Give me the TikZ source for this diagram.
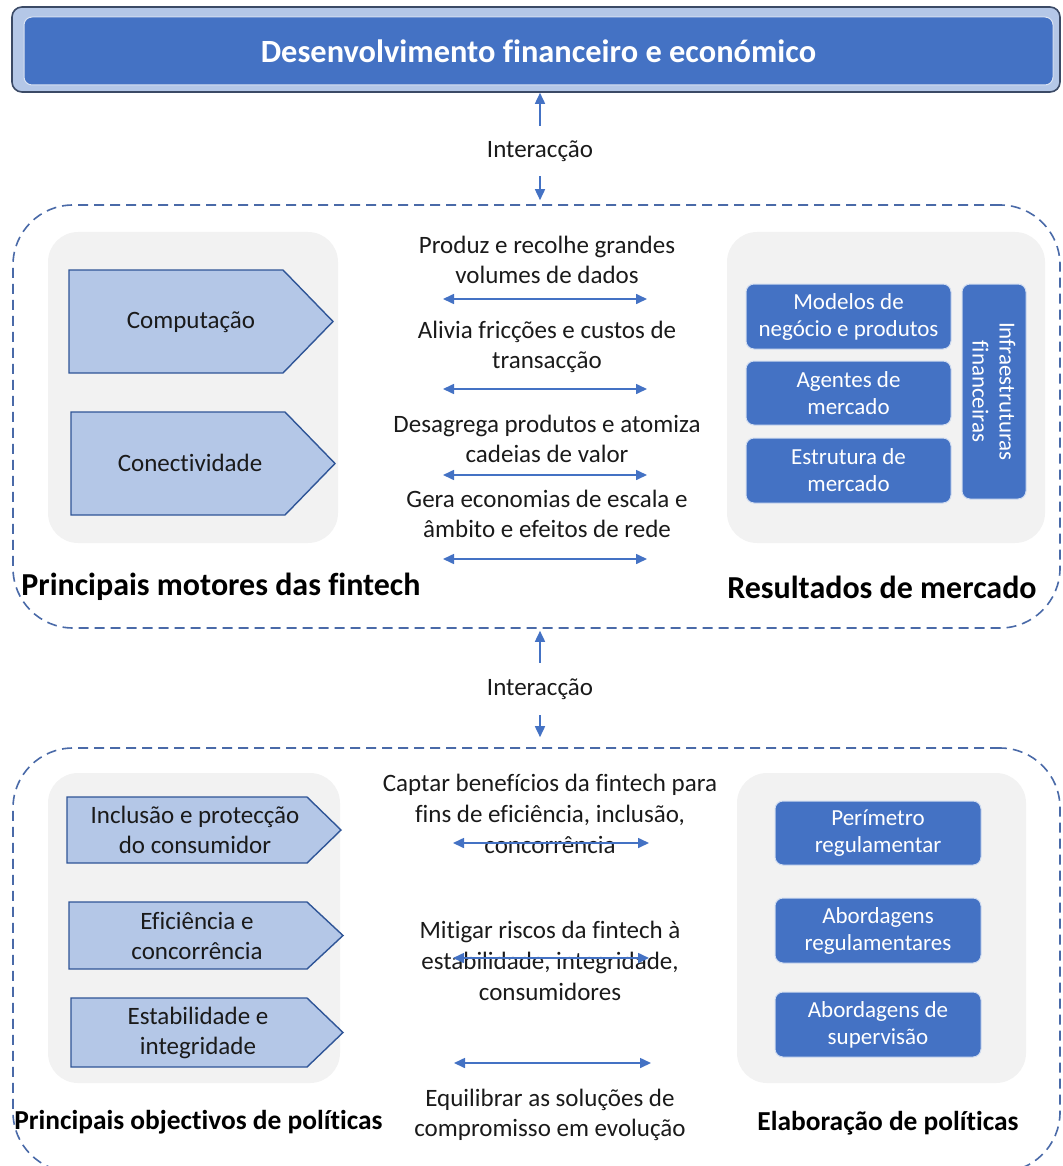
\documentclass[tikz,border=0pt]{standalone}
\usepackage{fontspec}
\setmainfont{Carlito}[Ligatures=NoCommon]
\usetikzlibrary{arrows.meta}

\definecolor{bluemain}{HTML}{4472C4}
\definecolor{bluelight}{HTML}{B4C7E7}
\definecolor{bluedark}{HTML}{2F5597}
\definecolor{bannerline}{HTML}{3B4A66}
\definecolor{greypanel}{HTML}{F2F2F2}
\definecolor{dashblue}{HTML}{4A6AA8}
\definecolor{inkdark}{HTML}{1A1A1A}

\tikzset{
  zone/.style={draw=dashblue, line width=0.8pt, dash pattern=on 5pt off 3pt, rounded corners=30pt, inner sep=0pt},
  panel/.style={fill=greypanel, rounded corners=15pt, inner sep=0pt},
  chevron/.style={fill=bluelight, draw=bluedark, line width=0.7pt},
  chevtext/.style={font=\fontsize{12.5}{15}\selectfont, text=inkdark, align=center},
  midtext/.style={font=\fontsize{12.5}{15}\selectfont, text=inkdark, align=center},
  midtextwide/.style={font=\fontsize{12.5}{15.5}\selectfont, text=inkdark, align=center},
  bluebox/.style={fill=bluemain, draw=white!75!bluemain, line width=0.5pt, rounded corners=4pt, text=white, font=\fontsize{11.5}{13.5}\selectfont, align=center, inner sep=0pt},
  zonelabel/.style={font=\fontsize{16}{18}\selectfont\bfseries, text=black, inner sep=0pt},
  zonelabelsmall/.style={font=\fontsize{13.7}{16}\selectfont\bfseries, text=black, inner sep=0pt},
  linkarrow/.style={draw=bluemain, line width=0.8pt, {Triangle[length=5.5pt,width=5pt]}-{Triangle[length=5.5pt,width=5pt]}},
  onearrow/.style={draw=bluemain, line width=0.8pt, -{Triangle[length=5.5pt,width=5pt]}},
}

\begin{document}
\begin{tikzpicture}[x=0.5pt, y=-0.5pt]
  \useasboundingbox (0,0) rectangle (1063,1166);

  % banner at the top
  \node[draw=bannerline, line width=0.8pt, fill=bluelight, rounded corners=5pt, minimum width=524pt, minimum height=42.5pt, inner sep=0pt] (frame) at (536,49.5) {};
  \node[fill=bluemain, draw=white!80!bluemain, line width=0.5pt, rounded corners=4pt, minimum width=514.5pt, minimum height=34pt, inner sep=0pt, text=white, font=\fontsize{16.2}{18}\selectfont\bfseries] (topic) at (538.5,51) {Desenvolvimento financeiro e económico};

  % dashed zones
  \node[zone, minimum width=523.5pt, minimum height=211.5pt] (zone1) at (536.5,416.5) {};
  \node[zone, minimum width=523.5pt, minimum height=212pt] (zone2) at (536.5,960) {};

  % interaction links
  \node[midtext, minimum height=25pt, inner sep=0pt] (int1) at (540,151) {Interacção};
  \draw[onearrow] (int1.north) -- (int1.north |- frame.south);
  \draw[onearrow, shorten >=2pt] (int1.south) -- (int1.south |- zone1.north);
  \node[midtext, minimum height=26pt, inner sep=0pt] (int2) at (540,689) {Interacção};
  \draw[onearrow, shorten >=1pt] (int2.north) -- (int2.north |- zone1.south);
  \draw[onearrow, shorten >=5pt] (int2.south) -- (int2.south |- zone2.north);

  % grey panels
  \node[panel, minimum width=145pt, minimum height=155.5pt] (drivers) at (193,387.5) {};
  \node[panel, minimum width=159pt, minimum height=155.5pt] (outcomes) at (886,387.5) {};
  \node[panel, minimum width=146pt, minimum height=155pt] (goals) at (194,928) {};
  \node[panel, minimum width=144.5pt, minimum height=155pt] (policy) at (881.5,928) {};

  % drivers
  \draw[chevron] (69,270) -- (283,270) -- (333,321.5) -- (283,373) -- (69,373) -- cycle;
  \node[chevtext] (comput) at (191,322) {Computação};
  \draw[chevron] (71,412) -- (285,412) -- (335,463.5) -- (285,515) -- (71,515) -- cycle;
  \node[chevtext] (conect) at (190,463) {Conectividade};

  % market outcomes
  \node[bluebox, minimum width=102.5pt, minimum height=32.5pt] (modelos) at (848.5,316.5) {Modelos de\\negócio e produtos};
  \node[bluebox, minimum width=102.5pt, minimum height=32pt] (agentes) at (848.5,393) {Agentes de\\mercado};
  \node[bluebox, minimum width=102.5pt, minimum height=32.5pt] (estrutura) at (848.5,470.5) {Estrutura de\\mercado};
  \node[bluebox, minimum width=107.5pt, minimum height=32pt, rotate=-90] (infra) at (994,391.5) {Infraestruturas\\financeiras};

  % effects between drivers and outcomes
  \node[midtext] (dados) at (547,260) {Produz e recolhe grandes\\volumes de dados};
  \node[midtext] (friccao) at (547,347) {Alivia fricções e custos de\\transacção};
  \node[midtext] (cadeias) at (547,439) {Desagrega produtos e atomiza\\cadeias de valor};
  \node[midtext] (escala) at (547,514) {Gera economias de escala e\\âmbito e efeitos de rede};
  \coordinate (dadosw) at (443,299);   \coordinate (dadose) at (647,299);
  \coordinate (friccaow) at (443,389); \coordinate (friccaoe) at (647,389);
  \coordinate (cadeiasw) at (443,475); \coordinate (cadeiase) at (647,475);
  \coordinate (escalaw) at (443,559);  \coordinate (escalae) at (647,559);
  \draw[linkarrow] (dadosw) -- (dadose);
  \draw[linkarrow] (friccaow) -- (friccaoe);
  \draw[linkarrow] (cadeiasw) -- (cadeiase);
  \draw[linkarrow] (escalaw) -- (escalae);

  \node[zonelabel, anchor=west] (motores) at (21,587) {Principais motores das fintech};
  \node[zonelabel, anchor=east] (resultados) at (1037,587) {Resultados de mercado};

  % policy goals
  \draw[chevron] (67,797) -- (307,797) -- (341,830) -- (307,863) -- (67,863) -- cycle;
  \node[chevtext] (inclusao) at (195,830) {Inclusão e protecção\\do consumidor};
  \draw[chevron] (69,902) -- (307,902) -- (343,935.5) -- (307,969) -- (69,969) -- cycle;
  \node[chevtext] (eficiencia) at (197,936) {Eficiência e\\concorrência};
  \draw[chevron] (71,998) -- (307,998) -- (343,1032.5) -- (307,1067) -- (71,1067) -- cycle;
  \node[chevtext] (estabilidade) at (198,1033) {Estabilidade e\\integridade};

  % policy making
  \node[bluebox, minimum width=103pt, minimum height=32pt] (perimetro) at (878,833) {Perímetro\\regulamentar};
  \node[bluebox, minimum width=103pt, minimum height=32.5pt] (abregul) at (878,930.5) {Abordagens\\regulamentares};
  \node[bluebox, minimum width=103pt, minimum height=32.5pt] (absuper) at (878,1024.5) {Abordagens de\\supervisão};

  % trade-offs between goals and policy
  \node[midtextwide] (captar) at (550,814) {Captar benefícios da fintech para\\fins de eficiência, inclusão,\\concorrência};
  \node[midtextwide] (mitigar) at (550,961) {Mitigar riscos da fintech à\\estabilidade, integridade,\\consumidores};
  \node[midtext] (equilibrar) at (550,1114.5) {Equilibrar as soluções de\\compromisso em evolução};
  \coordinate (captarw) at (453,843);   \coordinate (captare) at (649,843);
  \coordinate (mitigarw) at (453,958);  \coordinate (mitigare) at (649,958);
  \coordinate (equilw) at (454,1063);   \coordinate (equile) at (651,1063);
  \draw[linkarrow] (captarw) -- (captare);
  \draw[linkarrow] (mitigarw) -- (mitigare);
  \draw[linkarrow] (equilw) -- (equile);

  \node[zonelabelsmall, anchor=west] (objectivos) at (14,1122) {Principais objectivos de políticas};
  \node[zonelabelsmall] (elaboracao) at (888,1123) {Elaboração de políticas};
\end{tikzpicture}
\end{document}
